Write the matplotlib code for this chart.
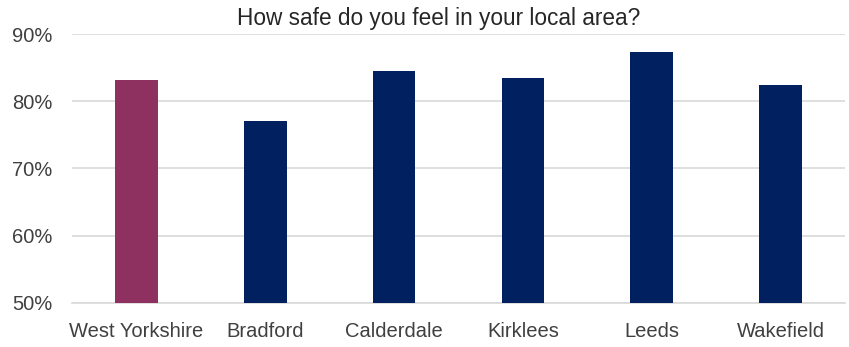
import matplotlib

matplotlib.use("Agg")
import matplotlib.pyplot as plt
from matplotlib.ticker import PercentFormatter

areas = ["West Yorkshire", "Bradford", "Calderdale", "Kirklees", "Leeds", "Wakefield"]
feel_safe = [83.1, 77.1, 84.5, 83.4, 87.3, 82.4]
bar_colors = ["#8E3060", "#002060", "#002060", "#002060", "#002060", "#002060"]
y_ticks = [50, 60, 70, 80, 90]

plt.rcParams["font.family"] = ["Liberation Sans Narrow", "Liberation Sans", "DejaVu Sans"]

fig = plt.figure(figsize=(8.49, 3.47), dpi=100)
ax = fig.add_axes([72 / 849, 1 - 303 / 347, 773 / 849, 269 / 347])

ax.bar(range(len(areas)), feel_safe, width=0.33, color=bar_colors, zorder=3)
ax.set_xlim(-0.5, len(areas) - 0.5)
ax.set_ylim(50, 90)
ax.set_yticks(y_ticks)
ax.yaxis.set_major_formatter(PercentFormatter(decimals=0))
ax.set_xticks(range(len(areas)))
ax.set_xticklabels(areas)
ax.grid(axis="y", color="#D9D9D9", linewidth=1.2, zorder=0)

for side in ("top", "right", "left"):
    ax.spines[side].set_visible(False)
ax.spines["bottom"].set_color("#D9D9D9")
ax.spines["bottom"].set_linewidth(1.2)
ax.tick_params(axis="both", length=0, labelsize=14.5, colors="#404040")
ax.tick_params(axis="x", pad=14)
ax.tick_params(axis="y", pad=14)

fig.text(0.517, 0.947, "How safe do you feel in your local area?", ha="center", va="center",
         fontsize=16.3, color="#262626")

fig.savefig("out.png", dpi=100)
